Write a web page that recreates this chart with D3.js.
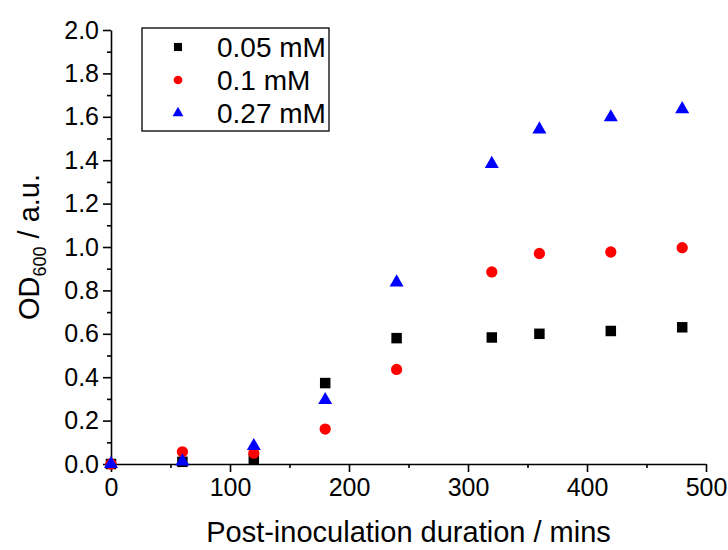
<!DOCTYPE html>
<meta charset="utf-8">
<script src="https://d3js.org/d3.v7.min.js"></script>
<style>
  body { margin: 0; background: #fff; }
  text { font-family: Arial, "Liberation Sans", sans-serif; }
</style>
<body>
<div id="chart"></div>
<script>

var times = [0, 60, 120, 180, 240, 320, 360, 420, 480];
var conc005 = [0, 0.01, 0.023, 0.373, 0.58, 0.583, 0.60, 0.613, 0.63];
var conc01 = [0, 0.056, 0.05, 0.161, 0.436, 0.885, 0.97, 0.977, 0.997];
var conc027 = [0, 0.012, 0.083, 0.295, 0.837, 1.383, 1.542, 1.598, 1.635];
var seriesNames = ["0.05 mM", "0.1 mM", "0.27 mM"];
var xTicks = [0, 100, 200, 300, 400, 500];
var yTicks = [0, 0.2, 0.4, 0.6, 0.8, 1.0, 1.2, 1.4, 1.6, 1.8, 2.0];

var W = 728, H = 550;
var margin = { top: 30, right: 22, bottom: 86, left: 111 };
var width = W - margin.left - margin.right;
var height = H - margin.top - margin.bottom;

var svg = d3.select("#chart").append("svg")
    .attr("width", W)
    .attr("height", H)
  .append("g")
    .attr("transform", "translate(" + margin.left + "," + margin.top + ")");

var x = d3.scaleLinear().domain([0, 500]).range([0, 595]);
var y = d3.scaleLinear().domain([0, 2]).range([height, 0]);

// minor ticks
svg.append("g")
    .attr("transform", "translate(0," + height + ")")
    .call(d3.axisBottom(x).tickValues(d3.range(50, 500, 100)).tickSize(4).tickFormat(""))
    .call(function(g) { g.select(".domain").remove(); });
svg.append("g")
    .call(d3.axisLeft(y).tickValues(d3.range(0.1, 2, 0.2)).tickSize(4).tickFormat(""))
    .call(function(g) { g.select(".domain").remove(); });

var xAxis = svg.append("g")
    .attr("transform", "translate(0," + height + ")")
    .call(d3.axisBottom(x).tickValues(xTicks).tickSize(8).tickSizeOuter(0).tickPadding(6));
var yAxis = svg.append("g")
    .call(d3.axisLeft(y).tickValues(yTicks).tickSize(8).tickSizeOuter(0).tickPadding(4)
      .tickFormat(d3.format(".1f")));

svg.selectAll(".domain, .tick line").attr("stroke", "#000").attr("stroke-width", 1.6);
svg.selectAll(".tick text").attr("font-size", 25).attr("fill", "#000")
   .attr("font-family", "Arial, 'Liberation Sans', sans-serif");

// axis titles
svg.append("text")
    .attr("x", x(250))
    .attr("y", height + 78)
    .attr("text-anchor", "middle")
    .attr("font-size", 29)
    .text("Post-inoculation duration / mins");

var yl = svg.append("text")
    .attr("transform", "translate(-72," + (height / 2) + ") rotate(-90)")
    .attr("text-anchor", "middle")
    .attr("font-size", 29);
yl.append("tspan").text("OD");
yl.append("tspan").attr("font-size", 18).attr("dy", 7).text("600");
yl.append("tspan").attr("dy", -7).text(" / a.u.");

var series = [
  { name: seriesNames[0], values: conc005, color: "#000", shape: d3.symbolSquare, size: 110 },
  { name: seriesNames[1], values: conc01, color: "#ff0000", shape: d3.symbolCircle, size: 100 },
  { name: seriesNames[2], values: conc027, color: "#0000ff", shape: d3.symbolTriangle, size: 85 }
];

series.forEach(function(s) {
  svg.selectAll(null)
    .data(times.map(function(t, i) { return [t, s.values[i]]; }))
    .enter().append("path")
      .attr("d", d3.symbol().type(s.shape).size(s.size))
      .attr("transform", function(d) { return "translate(" + x(d[0]) + "," + y(d[1]) + ")"; })
      .attr("fill", s.color);
});

// legend
var lg = svg.append("g").attr("transform", "translate(31,-2)");
lg.append("rect")
    .attr("width", 187).attr("height", 103)
    .attr("fill", "#fff").attr("stroke", "#000").attr("stroke-width", 1.3);
series.forEach(function(s, i) {
  var row = lg.append("g").attr("transform", "translate(0," + (19 + i * 33) + ")");
  row.append("path")
    .attr("d", d3.symbol().type(s.shape).size(s.size * 0.6))
    .attr("transform", "translate(36,0)")
    .attr("fill", s.color);
  row.append("text")
    .attr("x", 75).attr("y", 10)
    .attr("font-size", 28)
    .text(s.name);
});

</script>
</body>
